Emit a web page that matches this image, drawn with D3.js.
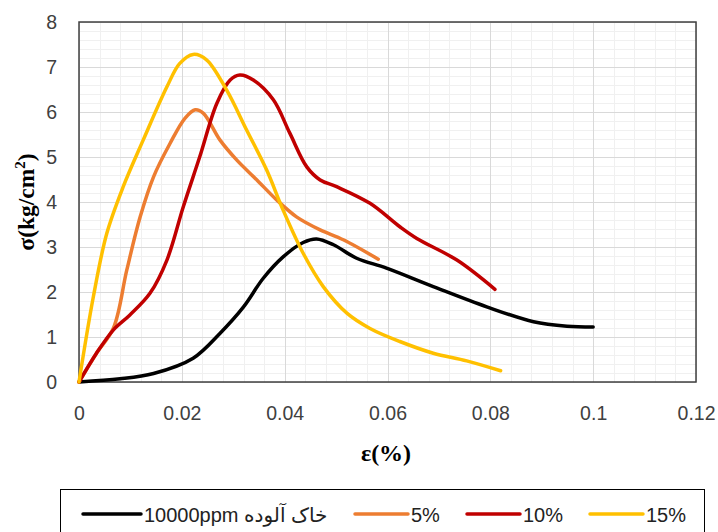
<!DOCTYPE html>
<html><head><meta charset="utf-8">
<script src="https://cdn.jsdelivr.net/npm/d3@7"></script>
<style>body{margin:0;background:#fff}svg{display:block}</style>
</head><body>
<svg id="c" width="718" height="532"></svg>
<script>
// ---- data ----
const seriesNames = ["10000ppm خاک آلوده", "5%", "10%", "15%"];
const seriesColors = ["#000000", "#ED7D31", "#C00000", "#FFC000"];
const blackX = [0, 0.008, 0.0145, 0.0222, 0.0274, 0.032, 0.0358, 0.0397, 0.0436, 0.0462, 0.0495, 0.054, 0.0598, 0.0689, 0.0793, 0.0884, 0.0949, 0.1];
const blackY = [0, 0.07, 0.19, 0.53, 1.08, 1.67, 2.30, 2.78, 3.10, 3.18, 3.05, 2.75, 2.53, 2.12, 1.67, 1.34, 1.24, 1.22];
const orangeX = [0, 0.0034, 0.0067, 0.0093, 0.0119, 0.0145, 0.0177, 0.0206, 0.0226, 0.0242, 0.0274, 0.0307, 0.0346, 0.0385, 0.0423, 0.0469, 0.0514, 0.0582];
const orangeY = [0, 0.64, 1.2, 2.49, 3.67, 4.56, 5.30, 5.86, 6.05, 5.97, 5.38, 4.93, 4.49, 4.04, 3.67, 3.38, 3.16, 2.73];
const redX = [0, 0.0034, 0.0067, 0.0099, 0.0138, 0.0171, 0.0203, 0.0235, 0.0268, 0.0294, 0.0313, 0.0339, 0.0378, 0.041, 0.0443, 0.0469, 0.0501, 0.0566, 0.0624, 0.0657, 0.0735, 0.0809];
const redY = [0, 0.64, 1.16, 1.49, 1.97, 2.71, 3.90, 5.01, 6.19, 6.71, 6.82, 6.71, 6.27, 5.53, 4.78, 4.49, 4.34, 3.97, 3.45, 3.19, 2.71, 2.06];
const yellowX = [0, 0.0028, 0.0054, 0.0086, 0.0125, 0.0171, 0.0196, 0.0222, 0.0248, 0.0287, 0.0326, 0.0365, 0.0397, 0.0436, 0.0475, 0.0521, 0.0566, 0.0624, 0.0689, 0.0754, 0.082];
const yellowY = [0, 1.9, 3.3, 4.34, 5.38, 6.56, 7.08, 7.28, 7.16, 6.49, 5.60, 4.71, 3.82, 2.86, 2.12, 1.53, 1.19, 0.90, 0.64, 0.47, 0.25];
const xTicks = [0, 0.02, 0.04, 0.06, 0.08, 0.1, 0.12];
const yTicks = [0, 1, 2, 3, 4, 5, 6, 7, 8];

const seriesXs = [blackX, orangeX, redX, yellowX];
const seriesYs = [blackY, orangeY, redY, yellowY];

// ---- layout ----
const L = 79, R = 696, T = 22, B = 382;
const svg = d3.select("#c");
const x = d3.scaleLinear().domain([0, 0.12]).range([L, R]);
const y = d3.scaleLinear().domain([0, 8]).range([B, T]);

// minor grid
const minorX = d3.range(0, 0.12 + 1e-9, 0.004);
const minorY = d3.range(0, 8 + 1e-9, 0.2);
const g = svg.append("g");
g.selectAll(".mx").data(minorX).enter().append("line")
  .attr("x1", d => Math.round(x(d)) + 0.5).attr("x2", d => Math.round(x(d)) + 0.5)
  .attr("y1", T).attr("y2", B).attr("stroke", "#f0f0f0").attr("stroke-width", 1);
g.selectAll(".my").data(minorY).enter().append("line")
  .attr("y1", d => Math.round(y(d)) + 0.5).attr("y2", d => Math.round(y(d)) + 0.5)
  .attr("x1", L).attr("x2", R).attr("stroke", "#f0f0f0").attr("stroke-width", 1);
// major grid
g.selectAll(".Mx").data(xTicks).enter().append("line")
  .attr("x1", d => Math.round(x(d)) + 0.5).attr("x2", d => Math.round(x(d)) + 0.5)
  .attr("y1", T).attr("y2", B).attr("stroke", "#d9d9d9").attr("stroke-width", 1);
g.selectAll(".My").data(yTicks).enter().append("line")
  .attr("y1", d => Math.round(y(d)) + 0.5).attr("y2", d => Math.round(y(d)) + 0.5)
  .attr("x1", L).attr("x2", R).attr("stroke", "#d9d9d9").attr("stroke-width", 1);

// plot border
svg.append("rect").attr("x", L).attr("y", T).attr("width", R - L).attr("height", B - T)
  .attr("fill", "none").attr("stroke", "#404040").attr("stroke-width", 1.5);

// axes (labels only)
const xAxis = d3.axisBottom(x).tickValues(xTicks).tickSize(0).tickPadding(0)
  .tickFormat(d => d3.format("")(+d.toFixed(2)));
const xa = svg.append("g").attr("transform", `translate(0,${B + 31})`).call(xAxis);
xa.select(".domain").remove();
xa.selectAll("text").attr("font-family", "Liberation Sans, Arial, sans-serif").attr("font-size", 19.5).attr("fill", "#404040").attr("dy", "0.35em");

const yAxis = d3.axisLeft(y).tickValues(yTicks).tickSize(0).tickPadding(0);
const ya = svg.append("g").attr("transform", `translate(${L - 22},0)`).call(yAxis);
ya.select(".domain").remove();
ya.selectAll("text").attr("font-family", "Liberation Sans, Arial, sans-serif").attr("font-size", 19.5).attr("fill", "#404040").attr("dy", "0.35em");

// axis titles
svg.append("text").attr("x", 386).attr("y", 461).attr("text-anchor", "middle")
  .attr("font-family", "Liberation Serif, Times New Roman, serif").attr("font-weight", "bold").attr("font-size", 24)
  .text("ε(%)");
const yt = svg.append("text").attr("transform", "translate(34,202) rotate(-90)").attr("text-anchor", "middle")
  .attr("font-family", "Liberation Serif, Times New Roman, serif").attr("font-weight", "bold").attr("font-size", 23.5);
yt.append("tspan").text("σ(kg/cm");
yt.append("tspan").attr("dy", -9).attr("font-size", 15).text("2");
yt.append("tspan").attr("dy", 9).text(")");

// lines
const line = d3.line().x(d => x(d[0])).y(d => y(d[1])).curve(d3.curveCatmullRom.alpha(0.5));
[0, 1, 2, 3].forEach(i => {
  const pts = seriesXs[i].map((v, k) => [v, seriesYs[i][k]]);
  svg.append("path").datum(pts).attr("d", line).attr("fill", "none")
    .attr("stroke", seriesColors[i]).attr("stroke-width", 3.5).attr("stroke-linecap", "round").attr("stroke-linejoin", "round");
});

// legend
svg.append("rect").attr("x", 60.5).attr("y", 489.5).attr("width", 644).attr("height", 50)
  .attr("fill", "#fff").attr("stroke", "#000").attr("stroke-width", 1);
const legX = [83, 355, 467, 590];
const legLen = [58, 53, 53, 53];
const legY = 514;
seriesNames.forEach((n, i) => {
  svg.append("line").attr("x1", legX[i]).attr("x2", legX[i] + legLen[i]).attr("y1", legY).attr("y2", legY)
    .attr("stroke", seriesColors[i]).attr("stroke-width", 3.5).attr("stroke-linecap", "round");
  svg.append("text").attr("x", legX[i] + legLen[i] + 3).attr("y", legY + 1).attr("dy", "0.35em")
    .attr("font-family", "Liberation Sans, DejaVu Sans, Arial, sans-serif").attr("font-size", 20).attr("fill", "#222")
    .text(n);
});
</script>
</body></html>
